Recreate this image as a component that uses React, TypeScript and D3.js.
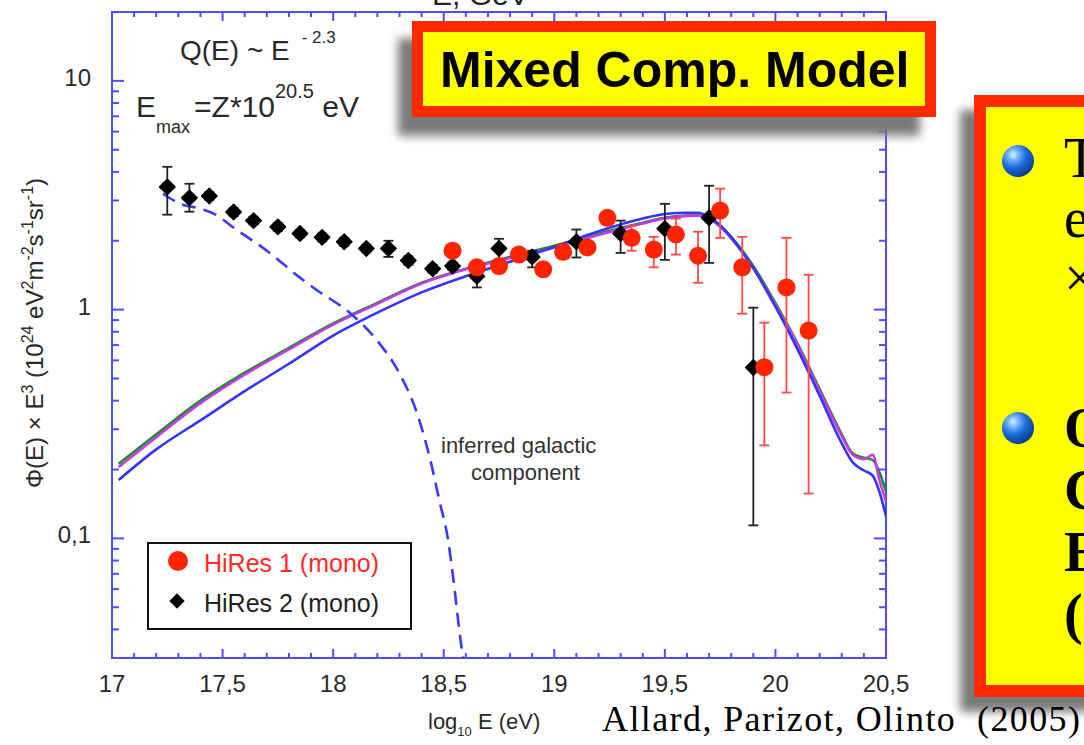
import React, { useEffect, useRef } from 'react';
import * as d3 from 'd3';

// HiRes 1 (mono) - red circles
const hires1Log = [18.54, 18.65, 18.75, 18.84, 18.95, 19.04, 19.15, 19.24, 19.35, 19.45, 19.55, 19.65, 19.75, 19.85, 19.95, 20.05, 20.15];
const hires1Val = [1.81, 1.53, 1.55, 1.74, 1.50, 1.79, 1.87, 2.52, 2.06, 1.83, 2.13, 1.72, 2.71, 1.53, 0.56, 1.25, 0.81];
const hires1Hi = [1.88, 1.59, 1.61, 1.80, 1.56, 1.86, 1.94, 2.62, 2.33, 2.08, 2.50, 2.19, 3.38, 2.08, 0.877, 2.06, 1.42];
const hires1Lo = [1.74, 1.47, 1.49, 1.68, 1.44, 1.72, 1.80, 2.42, 1.81, 1.53, 1.74, 1.31, 2.06, 0.96, 0.255, 0.434, 0.157];

// HiRes 2 (mono) - black diamonds
const hires2Log = [17.25, 17.35, 17.44, 17.55, 17.64, 17.75, 17.85, 17.95, 18.05, 18.15, 18.25, 18.34, 18.45, 18.54, 18.65, 18.75, 18.9, 19.1, 19.3, 19.5, 19.7, 19.9];
const hires2Val = [3.44, 3.08, 3.14, 2.67, 2.45, 2.30, 2.15, 2.07, 1.98, 1.85, 1.85, 1.64, 1.51, 1.55, 1.40, 1.85, 1.70, 1.98, 2.15, 2.26, 2.52, 0.558];
const hires2Hi = [4.21, 3.55, 3.26, 2.77, 2.54, 2.39, 2.23, 2.15, 2.06, 1.92, 2.00, 1.71, 1.57, 1.61, 1.59, 2.04, 1.81, 2.24, 2.45, 2.90, 3.48, 1.02];
const hires2Lo = [2.60, 2.68, 3.02, 2.57, 2.36, 2.21, 2.07, 1.99, 1.90, 1.78, 1.70, 1.57, 1.45, 1.49, 1.25, 1.64, 1.53, 1.69, 1.77, 1.65, 1.60, 0.114];

// model curves
const curveLog = [17.03, 17.2, 17.4, 17.6, 17.8, 18.0, 18.2, 18.4, 18.6, 18.8, 19.0, 19.2, 19.4, 19.5, 19.6, 19.65, 19.7, 19.75, 19.8, 19.9, 20.0, 20.1, 20.2, 20.3, 20.35, 20.4, 20.44, 20.47, 20.5];
const greenVal = [0.212, 0.285, 0.40, 0.53, 0.68, 0.87, 1.07, 1.31, 1.51, 1.70, 1.90, 2.15, 2.40, 2.52, 2.58, 2.58, 2.52, 2.33, 2.08, 1.55, 1.07, 0.71, 0.45, 0.285, 0.235, 0.225, 0.22, 0.195, 0.16];
const magentaVal = [0.205, 0.277, 0.39, 0.52, 0.67, 0.86, 1.06, 1.30, 1.50, 1.68, 1.87, 2.12, 2.38, 2.50, 2.57, 2.58, 2.50, 2.30, 2.05, 1.52, 1.05, 0.70, 0.44, 0.28, 0.232, 0.222, 0.232, 0.18, 0.145];
const blueVal = [0.180, 0.245, 0.328, 0.44, 0.58, 0.77, 0.97, 1.19, 1.40, 1.62, 1.88, 2.20, 2.50, 2.62, 2.65, 2.65, 2.54, 2.34, 2.07, 1.52, 1.03, 0.67, 0.42, 0.26, 0.215, 0.198, 0.188, 0.16, 0.125];

// inferred galactic component (dashed)
const galLog = [17.23, 17.31, 17.40, 17.46, 17.55, 17.70, 17.85, 17.93, 18.08, 18.20, 18.30, 18.38, 18.44, 18.48, 18.52, 18.55, 18.57, 18.587];
const galVal = [3.21, 2.90, 2.76, 2.63, 2.28, 1.81, 1.38, 1.21, 0.96, 0.73, 0.526, 0.351, 0.219, 0.147, 0.098, 0.059, 0.040, 0.030];

const xTicks = [17, 17.5, 18, 18.5, 19, 19.5, 20, 20.5];
const xTickLabels = ['17', '17,5', '18', '18,5', '19', '19,5', '20', '20,5'];
const yTicks = [0.1, 1, 10];
const yTickLabels = ['0,1', '1', '10'];

const bullet1Lines = ['T', 'e', '×'];
const bullet2Lines = ['O', 'C', 'E', '('];

const SANS = "'Liberation Sans', Arial, Helvetica, sans-serif";
const SERIF = "'Liberation Serif', 'Times New Roman', serif";
const AXIS_BLUE = '#4d4dff';

const App = () => {
  const svgRef = useRef<SVGSVGElement>(null);

  useEffect(() => {
    const svg = d3.select(svgRef.current);
    svg.selectAll('*').remove();

    const left = 112, right = 886, top = 12, bottom = 658;
    const x = d3.scaleLinear().domain([17, 20.5]).range([left, right]);
    const y = d3.scaleLog().domain([0.03, 20]).range([bottom, top]);

    const defs = svg.append('defs');
    const blur = defs.append('filter').attr('id', 'shadowBlur')
      .attr('x', '-30%').attr('y', '-30%').attr('width', '160%').attr('height', '160%');
    blur.append('feGaussianBlur').attr('stdDeviation', 5);
    const ball = defs.append('radialGradient').attr('id', 'ball')
      .attr('cx', '35%').attr('cy', '30%').attr('r', '75%');
    ball.append('stop').attr('offset', '0%').attr('stop-color', '#e6f3ff');
    ball.append('stop').attr('offset', '22%').attr('stop-color', '#72b4ff');
    ball.append('stop').attr('offset', '55%').attr('stop-color', '#1c6ad6');
    ball.append('stop').attr('offset', '100%').attr('stop-color', '#0a3a88');
    defs.append('clipPath').attr('id', 'plotClip')
      .append('rect').attr('x', left).attr('y', top).attr('width', right - left).attr('height', bottom - top);

    svg.append('rect').attr('width', 1084).attr('height', 745).attr('fill', '#fff');

    // top energy label (cut off by page edge, as in the source figure)
    svg.append('text').attr('x', 432).attr('y', 5)
      .attr('font-family', SANS).attr('font-size', 30).attr('fill', '#222')
      .text('E, GeV');

    // ---- ticks ----
    const xMinor = d3.range(170, 206).map(d => d / 10).filter(d => !xTicks.includes(d));
    const yMinor: number[] = [];
    [0.01, 0.1, 1, 10].forEach(dec => {
      for (let k = 2; k <= 9; k++) {
        const v = dec * k;
        if (v >= 0.03 && v <= 20) yMinor.push(v);
      }
    });

    const ticks = svg.append('g').attr('stroke', AXIS_BLUE).attr('stroke-width', 2);
    xTicks.forEach(t => {
      ticks.append('line').attr('x1', x(t)).attr('x2', x(t)).attr('y1', bottom).attr('y2', bottom - 9);
      ticks.append('line').attr('x1', x(t)).attr('x2', x(t)).attr('y1', top).attr('y2', top + 9);
    });
    xMinor.forEach(t => {
      ticks.append('line').attr('x1', x(t)).attr('x2', x(t)).attr('y1', bottom).attr('y2', bottom - 5);
      ticks.append('line').attr('x1', x(t)).attr('x2', x(t)).attr('y1', top).attr('y2', top + 5);
    });
    yTicks.forEach(t => {
      ticks.append('line').attr('x1', left).attr('x2', left + 12).attr('y1', y(t)).attr('y2', y(t));
      ticks.append('line').attr('x1', right).attr('x2', right - 12).attr('y1', y(t)).attr('y2', y(t));
    });
    yMinor.forEach(t => {
      ticks.append('line').attr('x1', left).attr('x2', left + 7).attr('y1', y(t)).attr('y2', y(t));
      ticks.append('line').attr('x1', right).attr('x2', right - 7).attr('y1', y(t)).attr('y2', y(t));
    });

    // frame
    svg.append('rect').attr('x', left).attr('y', top).attr('width', right - left).attr('height', bottom - top)
      .attr('fill', 'none').attr('stroke', AXIS_BLUE).attr('stroke-width', 2);

    // tick labels
    const labels = svg.append('g').attr('font-family', SANS).attr('font-size', 24).attr('fill', '#2a2a2a');
    xTicks.forEach((t, i) => {
      labels.append('text').attr('x', x(t)).attr('y', 692).attr('text-anchor', 'middle').text(xTickLabels[i]);
    });
    yTicks.forEach((t, i) => {
      labels.append('text').attr('x', 91).attr('y', y(t) + 5).attr('text-anchor', 'end').text(yTickLabels[i]);
    });

    // x axis title
    const xt = svg.append('text').attr('x', 428).attr('y', 729)
      .attr('font-family', SANS).attr('font-size', 22).attr('fill', '#2a2a2a');
    xt.append('tspan').text('log');
    xt.append('tspan').attr('font-size', 13).attr('dy', 7).text('10');
    xt.append('tspan').attr('dy', -7).text(' E (eV)');

    // y axis title
    const yt = svg.append('text').attr('transform', 'translate(43,333) rotate(-90)')
      .attr('text-anchor', 'middle').attr('font-family', SANS).attr('font-size', 24).attr('fill', '#2a2a2a');
    const yParts: [string, boolean][] = [
      ['Φ(E) × E', false], ['3', true], [' (10', false], ['24', true], [' eV', false], ['2', true],
      ['m', false], ['-2', true], ['s', false], ['-1', true], ['sr', false], ['-1', true], [')', false],
    ];
    let sup = false;
    yParts.forEach(([s, isSup]) => {
      const tsp = yt.append('tspan').text(s);
      if (isSup && !sup) tsp.attr('dy', -10).attr('font-size', 16);
      else if (!isSup && sup) tsp.attr('dy', 10);
      else if (isSup) tsp.attr('font-size', 16);
      sup = isSup;
    });

    // annotations
    const q = svg.append('text').attr('x', 180).attr('y', 60)
      .attr('font-family', SANS).attr('font-size', 28).attr('fill', '#2a2a2a');
    q.append('tspan').text('Q(E) ~ E');
    q.append('tspan').attr('dx', 12).attr('dy', -17).attr('font-size', 17).text('- 2.3');

    const em = svg.append('text').attr('x', 136).attr('y', 117)
      .attr('font-family', SANS).attr('font-size', 30).attr('fill', '#2a2a2a');
    em.append('tspan').text('E');
    em.append('tspan').attr('font-size', 18).attr('dy', 16).text('max');
    em.append('tspan').attr('dy', -16).attr('dx', 4).text('=Z*10');
    em.append('tspan').attr('font-size', 20).attr('dy', -19).text('20.5');
    em.append('tspan').attr('dy', 19).text(' eV');

    const plot = svg.append('g').attr('clip-path', 'url(#plotClip)');

    // model curves
    const line = d3.line<[number, number]>()
      .x(d => x(d[0])).y(d => y(d[1])).curve(d3.curveMonotoneX);
    const models: [number[], string][] = [
      [greenVal, '#1f8a2a'], [magentaVal, '#c23be6'], [blueVal, '#3434ff'],
    ];
    models.forEach(([vals, col]) => {
      plot.append('path')
        .attr('d', line(curveLog.map((l, i) => [l, vals[i]] as [number, number])))
        .attr('fill', 'none').attr('stroke', col).attr('stroke-width', 2.6);
    });

    plot.append('path')
      .attr('d', line(galLog.map((l, i) => [l, galVal[i]] as [number, number])))
      .attr('fill', 'none').attr('stroke', '#3a3aff').attr('stroke-width', 2.6)
      .attr('stroke-dasharray', '14 8');

    svg.append('text').attr('x', 441).attr('y', 453)
      .attr('font-family', SANS).attr('font-size', 22).attr('fill', '#333')
      .text('inferred galactic');
    svg.append('text').attr('x', 471).attr('y', 480)
      .attr('font-family', SANS).attr('font-size', 22).attr('fill', '#333')
      .text('component');

    // HiRes 2 error bars + diamonds
    const diamond = d3.symbol().type(d3.symbolSquare).size(118);
    hires2Log.forEach((l, i) => {
      const cx = x(l);
      const eb = plot.append('g').attr('stroke', '#222').attr('stroke-width', 1.8);
      eb.append('line').attr('x1', cx).attr('x2', cx).attr('y1', y(hires2Hi[i])).attr('y2', y(hires2Lo[i]));
      eb.append('line').attr('x1', cx - 5).attr('x2', cx + 5).attr('y1', y(hires2Hi[i])).attr('y2', y(hires2Hi[i]));
      eb.append('line').attr('x1', cx - 5).attr('x2', cx + 5).attr('y1', y(hires2Lo[i])).attr('y2', y(hires2Lo[i]));
    });
    hires2Log.forEach((l, i) => {
      plot.append('path').attr('d', diamond())
        .attr('transform', `translate(${x(l)},${y(hires2Val[i])}) rotate(45)`)
        .attr('fill', '#000').attr('stroke', '#000').attr('stroke-width', 1.5).attr('stroke-linejoin', 'round');
    });

    // HiRes 1 error bars + circles
    hires1Log.forEach((l, i) => {
      const cx = x(l);
      const eb = plot.append('g').attr('stroke', '#ff4a4a').attr('stroke-width', 1.8);
      eb.append('line').attr('x1', cx).attr('x2', cx).attr('y1', y(hires1Hi[i])).attr('y2', y(hires1Lo[i]));
      eb.append('line').attr('x1', cx - 5).attr('x2', cx + 5).attr('y1', y(hires1Hi[i])).attr('y2', y(hires1Hi[i]));
      eb.append('line').attr('x1', cx - 5).attr('x2', cx + 5).attr('y1', y(hires1Lo[i])).attr('y2', y(hires1Lo[i]));
    });
    hires1Log.forEach((l, i) => {
      plot.append('circle').attr('cx', x(l)).attr('cy', y(hires1Val[i])).attr('r', 9).attr('fill', '#ff2400');
    });

    // legend
    const lg = svg.append('g');
    lg.append('rect').attr('x', 148).attr('y', 543).attr('width', 263).attr('height', 86)
      .attr('fill', '#fff').attr('stroke', '#111').attr('stroke-width', 2);
    lg.append('circle').attr('cx', 178).attr('cy', 561).attr('r', 10).attr('fill', '#ff2400');
    lg.append('path').attr('d', diamond()).attr('transform', 'translate(177,601) rotate(45)').attr('fill', '#000');
    lg.append('text').attr('x', 204).attr('y', 572).attr('font-family', SANS).attr('font-size', 25)
      .attr('fill', '#ff2a2a').text('HiRes 1 (mono)');
    lg.append('text').attr('x', 204).attr('y', 612).attr('font-family', SANS).attr('font-size', 25)
      .attr('fill', '#222').text('HiRes 2 (mono)');

    // "Mixed Comp. Model" box
    svg.append('rect').attr('x', 398).attr('y', 38).attr('width', 522).attr('height', 98)
      .attr('fill', '#7a7a7a').attr('filter', 'url(#shadowBlur)');
    svg.append('rect').attr('x', 412).attr('y', 21).attr('width', 524).attr('height', 96).attr('fill', '#ff2a00');
    svg.append('rect').attr('x', 423).attr('y', 32).attr('width', 502).attr('height', 74).attr('fill', '#ffff00');
    svg.append('text').attr('x', 440).attr('y', 87).attr('font-family', SANS).attr('font-weight', 'bold')
      .attr('font-size', 50).attr('fill', '#000').text('Mixed Comp. Model');

    // right-hand text box (cut by page edge, as in the source slide)
    svg.append('rect').attr('x', 960).attr('y', 110).attr('width', 200).attr('height', 602)
      .attr('fill', '#7a7a7a').attr('filter', 'url(#shadowBlur)');
    svg.append('rect').attr('x', 974).attr('y', 95).attr('width', 200).attr('height', 602).attr('fill', '#ff2a00');
    svg.append('rect').attr('x', 986).attr('y', 107).attr('width', 200).attr('height', 578).attr('fill', '#ffff00');
    svg.append('circle').attr('cx', 1018).attr('cy', 161).attr('r', 16).attr('fill', 'url(#ball)');
    svg.append('circle').attr('cx', 1018).attr('cy', 428).attr('r', 16).attr('fill', 'url(#ball)');
    bullet1Lines.forEach((s, i) => {
      svg.append('text').attr('x', 1064).attr('y', 177 + i * 60).attr('font-family', SERIF)
        .attr('font-size', 56).attr('fill', '#000').text(s);
    });
    bullet2Lines.forEach((s, i) => {
      svg.append('text').attr('x', 1064).attr('y', 447 + i * 62).attr('font-family', SERIF)
        .attr('font-weight', 'bold').attr('font-size', 56).attr('fill', '#000').text(s);
    });

    // citation
    svg.append('text').attr('x', 602).attr('y', 731).attr('font-family', SERIF)
      .attr('font-size', 36).attr('fill', '#000')
      .attr('textLength', 478).attr('lengthAdjust', 'spacing')
      .style('white-space', 'pre')
      .text('Allard, Parizot, Olinto  (2005)');
  }, []);

  return (
    <svg ref={svgRef} width={1084} height={745}
      style={{ position: 'absolute', left: 0, top: 0, display: 'block' }} />
  );
};

export default App;
